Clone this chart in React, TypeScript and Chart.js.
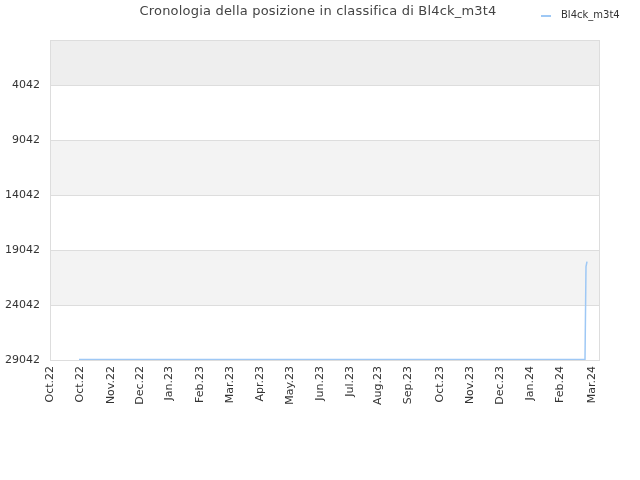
import React, { useEffect, useRef } from "react";
import { Chart, registerables } from "chart.js";

Chart.register(...registerables);

// days counted from the left edge of the plot
const tickDays = [0, 30, 61, 90, 119, 150, 180, 210, 240, 270, 300, 328, 358, 390, 420, 450, 480, 510, 542];
const tickLabels = [
  "Oct.22", "Oct.22", "Nov.22", "Dec.22", "Jan.23", "Feb.23", "Mar.23", "Apr.23", "May.23", "Jun.23",
  "Jul.23", "Aug.23", "Sep.23", "Oct.23", "Nov.23", "Dec.23", "Jan.24", "Feb.24", "Mar.24",
];
const rankTicks = [4042, 9042, 14042, 19042, 24042, 29042];

const seriesName = "Bl4ck_m3t4";
const days = [29, 60, 90, 120, 150, 180, 210, 240, 270, 300, 330, 360, 390, 420, 450, 480, 510, 535, 536, 537];
const ranks = [
  29000, 29000, 29000, 29000, 29000, 29000, 29000, 29000, 29000, 29000,
  29000, 29000, 29000, 29000, 29000, 29000, 29000, 29000, 20550, 20100,
];

const titleText = "Cronologia della posizione in classifica di " + seriesName;
const lineColor = "#9ec8f5";
const FONT = "'DejaVu Sans', sans-serif";

const App: React.FC = () => {
  const canvasRef = useRef<HTMLCanvasElement | null>(null);

  useEffect(() => {
    if (!canvasRef.current) return;
    const ctx = canvasRef.current.getContext("2d");
    if (!ctx) return;

    const chart = new Chart(ctx, {
      type: "line",
      data: {
        datasets: [
          {
            label: seriesName,
            data: days.map((d, i) => ({ x: d, y: ranks[i] })),
            borderColor: lineColor,
            borderWidth: 1.5,
            pointRadius: 0,
            tension: 0,
          },
        ],
      },
      options: {
        animation: false,
        responsive: true,
        maintainAspectRatio: false,
        layout: { padding: { top: 40, right: 40, left: 0, bottom: 0 } },
        plugins: {
          legend: { display: false },
          title: { display: false },
          tooltip: { enabled: false },
        },
        scales: {
          x: {
            type: "linear",
            min: 0,
            max: 550,
            afterBuildTicks: (scale) => {
              scale.ticks = tickDays.map((v) => ({ value: v }));
            },
            afterFit: (scale) => {
              scale.height = 120;
            },
            grid: { display: false, drawTicks: false },
            border: { display: false },
            ticks: {
              autoSkip: false,
              minRotation: 90,
              maxRotation: 90,
              padding: 6,
              color: "#333",
              font: { family: FONT, size: 11 },
              callback: (_v, i) => tickLabels[i],
            },
          },
          y: {
            type: "linear",
            reverse: true,
            min: -50,
            max: 29042,
            afterBuildTicks: (scale) => {
              scale.ticks = rankTicks.map((v) => ({ value: v }));
            },
            afterFit: (scale) => {
              scale.width = 50;
            },
            grid: { color: "#dddddd", drawTicks: false },
            border: { display: false },
            ticks: {
              padding: 10,
              color: "#333",
              font: { family: FONT, size: 11 },
              callback: (v) => String(v),
            },
          },
        },
      },
      plugins: [
        {
          id: "bandsAndText",
          beforeDraw: (c) => {
            const { ctx, chartArea, scales } = c;
            const y = scales.y;
            const { left, right } = chartArea;
            ctx.save();
            // alternating bands, top one a bit darker
            const edges = [y.min, ...rankTicks];
            for (let i = 0; i < edges.length - 1; i += 2) {
              const y0 = y.getPixelForValue(edges[i]);
              const y1 = y.getPixelForValue(edges[i + 1]);
              ctx.fillStyle = i === 0 ? "#eeeeee" : "#f3f3f3";
              ctx.fillRect(left, y0, right - left, y1 - y0);
            }
            ctx.restore();
          },
          afterDraw: (c) => {
            const { ctx, chartArea } = c;
            const { left, right, top, bottom } = chartArea;
            ctx.save();
            ctx.strokeStyle = "#dddddd";
            ctx.lineWidth = 1;
            ctx.strokeRect(left + 0.5, top + 0.5, right - left - 1, bottom - top);

            ctx.fillStyle = "#444";
            ctx.font = "13px " + FONT;
            (ctx as any).letterSpacing = "0.2px";
            ctx.textAlign = "center";
            ctx.textBaseline = "middle";
            ctx.fillText(titleText, 318, 12);
            (ctx as any).letterSpacing = "0px";

            ctx.strokeStyle = lineColor;
            ctx.lineWidth = 2;
            ctx.beginPath();
            ctx.moveTo(541, 16);
            ctx.lineTo(551, 16);
            ctx.stroke();
            ctx.fillStyle = "#333";
            ctx.font = "10px " + FONT;
            ctx.textAlign = "left";
            ctx.fillText(seriesName, 561, 15);
            ctx.restore();
          },
        },
      ],
    });

    return () => {
      chart.destroy();
    };
  }, []);

  return (
    <div style={{ position: "fixed", left: 0, top: 0, width: 640, height: 480, background: "#fff" }}>
      <canvas ref={canvasRef}></canvas>
    </div>
  );
};

export default App;
